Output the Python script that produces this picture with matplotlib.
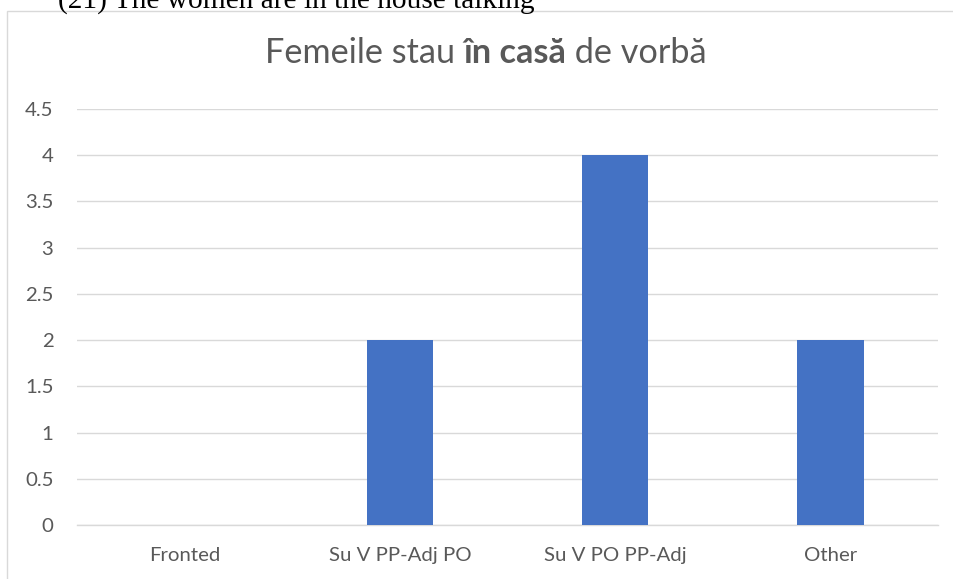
import matplotlib.pyplot as plt
from matplotlib.patches import Rectangle

categories = ["Fronted", "Su V PP-Adj PO", "Su V PO PP-Adj", "Other"]
values = [0, 2, 4, 2]
yticks = [0, 0.5, 1, 1.5, 2, 2.5, 3, 3.5, 4, 4.5]

W, H = 954, 579
TEXT = "#595959"
GRID = "#D9D9D9"
BAR = "#4472C4"
FONT = "Lato"

fig = plt.figure(figsize=(W / 100, H / 100), dpi=100)
ax = fig.add_axes([77 / W, 1 - 525 / H, (938 - 77) / W, (525 - 109) / H])

x = list(range(len(categories)))
ax.bar(x, values, width=0.31, color=BAR, zorder=3)
ax.set_xlim(-0.5, len(categories) - 0.5)
ax.set_ylim(0, 4.5)
ax.set_yticks(yticks)
ax.set_yticklabels([f"{t:g}" for t in yticks])
ax.set_xticks(x)
ax.set_xticklabels(categories)
ax.tick_params(axis="both", length=0, labelcolor=TEXT, labelsize=14.7)
ax.tick_params(axis="y", pad=17)
ax.tick_params(axis="x", pad=16)
for lab in ax.get_xticklabels() + ax.get_yticklabels():
    lab.set_fontfamily(FONT)
ax.grid(axis="y", color=GRID, linewidth=1.0, zorder=0)
for s in ["top", "right", "left"]:
    ax.spines[s].set_visible(False)
ax.spines["bottom"].set_color(GRID)
ax.spines["bottom"].set_linewidth(1.0)

# chart frame
fig.patches.append(Rectangle((7 / W, -0.1), 1.2, 1 - 11 / H + 0.1, transform=fig.transFigure,
                             fill=False, edgecolor=GRID, linewidth=1.0))

# caption from the document above the chart (cut off at the top, as in the source)
fig.text(58 / W, 1 - 8 / H, "(21) The women are in the house talking", family="Liberation Serif",
         fontsize=21.2, color="black", va="baseline", ha="left")

# title with bold middle part
parts = [("Femeile stau ", "normal"), ("în casă", "bold"), (" de vorbă", "normal")]
fig.canvas.draw()
r = fig.canvas.get_renderer()
objs = []
for s, w in parts:
    t = fig.text(0, 1 - 63 / H, s, family=FONT, fontweight=w, fontsize=24.7, color=TEXT, va="baseline")
    objs.append(t)
widths = [t.get_window_extent(r).width for t in objs]
total = sum(widths)
xpos = 486 - total / 2
for t, wd in zip(objs, widths):
    t.set_x(xpos / W)
    xpos += wd

fig.savefig("out.png", dpi=100, facecolor="white")
